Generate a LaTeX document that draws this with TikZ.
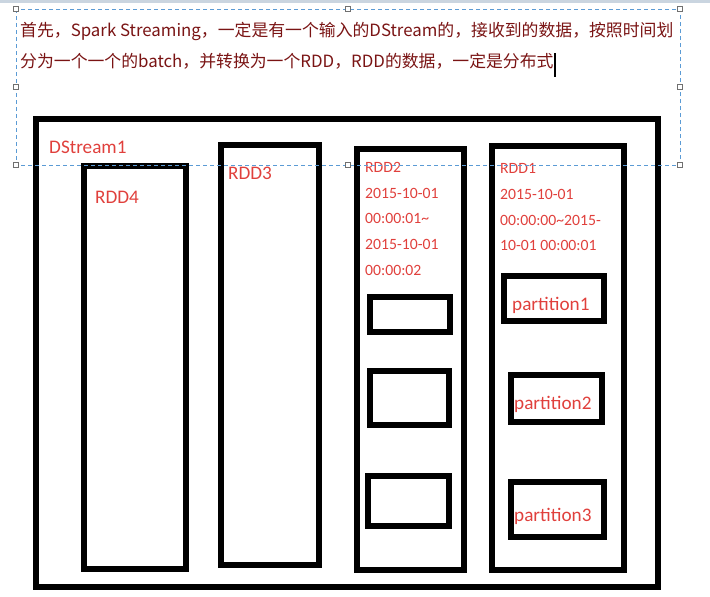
\documentclass[tikz,border=0pt]{standalone}
\usepackage{fontspec}
\setmainfont{Carlito}
\newfontfamily\cjk{Noto Sans CJK SC}
\definecolor{maroon}{HTML}{7A1414}
\definecolor{lblred}{HTML}{E0403C}
\definecolor{selblue}{HTML}{5B9BD5}
\definecolor{handlegray}{HTML}{707070}
\definecolor{bandgray}{HTML}{CAD5E0}
\tikzset{
  box/.style={draw=black, line width=6pt, fill=none, inner sep=0pt, outer sep=0pt},
  lbl/.style={anchor=base west, inner sep=0pt, text=lblred, font=\fontsize{19.2}{19.2}\selectfont},
  small/.style={anchor=base west, inner sep=0pt, text=lblred, font=\fontsize{15.7}{15.7}\selectfont},
  toptext/.style={anchor=base west, inner sep=0pt, text=maroon, font=\cjk\fontsize{16.85}{16.85}\selectfont},
  handle/.style={draw=handlegray, fill=white, line width=0.8pt, minimum size=5pt, inner sep=0pt},
  sel/.style={draw=selblue, line width=1pt, dash pattern=on 4pt off 3pt}
}
\newcommand{\boxat}[5]{\node[box, minimum width={#4-#2}, minimum height={#5-#3}] (#1) at ({(#2+#4)/2},{(#3+#5)/2}) {};}
\begin{document}
\begin{tikzpicture}[x=1pt,y=-1pt]
\useasboundingbox (0,0) rectangle (710,597);
\fill[bandgray] (0,0) rectangle (710,3);
% boxes
\boxat{dstream}{36}{119}{658}{587}
\boxat{rddfour}{84}{165.5}{186}{569}
\boxat{rddthree}{221}{145}{318.5}{565}
\boxat{rddtwo}{356.5}{148.5}{464}{570}
\boxat{inone}{370}{296.5}{450}{332}
\boxat{intwo}{370}{371}{448.5}{425}
\boxat{inthree}{368}{476}{449}{526}
\boxat{rddone}{491.5}{145.5}{624}{570}
\boxat{pone}{504}{276}{604}{321}
\boxat{ptwo}{510.5}{375}{602}{422}
\boxat{pthree}{511}{482}{604}{536.5}
% labels
\node[lbl] (tds) at (49,153) {DStream1};
\node[lbl] (tr4) at (95,203) {RDD4};
\node[lbl] (tr3) at (228,179) {RDD3};
\node[small] (tr2a) at (365,172) {RDD2};
\node[small] (tr2b) at (365,198) {2015-10-01};
\node[small] (tr2c) at (365,223) {00:00:01\char"7E};
\node[small] (tr2d) at (365,249) {2015-10-01};
\node[small] (tr2e) at (365,275) {00:00:02};
\node[small] (tr1a) at (500,173) {RDD1};
\node[small] (tr1b) at (500,199) {2015-10-01};
\node[small] (tr1c) at (500,225) {00:00:00\char"7E 2015-};
\node[small] (tr1d) at (500,250) {10-01 00:00:01};
\node[lbl] (tp1) at (512,310) {partition1};
\node[lbl] (tp2) at (514,409) {partition2};
\node[lbl] (tp3) at (514,521) {partition3};
% selection frame
\coordinate (sa) at (16,9);
\coordinate (sb) at (680,165);
\draw[sel] (sa) rectangle (sb);
\foreach \hx/\hy in {16/9,348/9,680/9,16/87,680/87,16/165,348/165,680/165}
  \node[handle] at (\hx,\hy) {};
% top text
\node[toptext] (line1) at (20,36) {首先，Spark Streaming，一定是有一个输入的DStream的，接收到的数据，按照时间划};
\node[toptext] (line2) at (20,67) {分为一个一个的batch，并转换为一个RDD，RDD的数据，一定是分布式};
\draw[black, line width=1.3pt] (555,53) -- (555,77);
\end{tikzpicture}
\end{document}
